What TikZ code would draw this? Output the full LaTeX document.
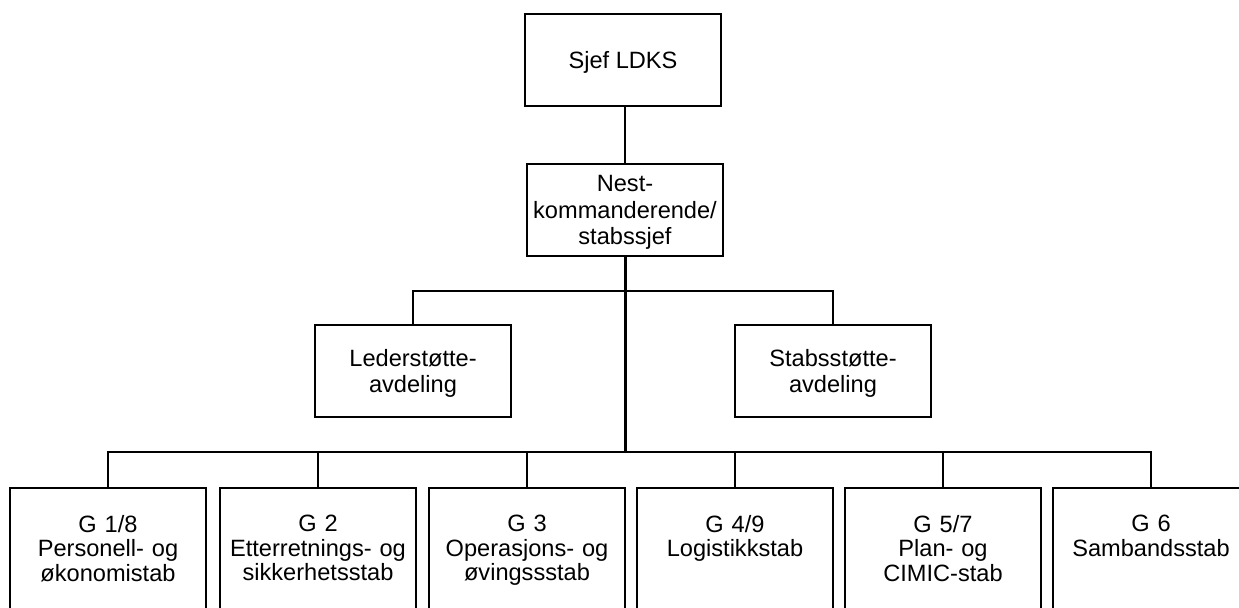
\documentclass[tikz,border=0pt]{standalone}
\usepackage{fontspec}
\setmainfont{Liberation Sans}
\usetikzlibrary{positioning}

\begin{document}
\begin{tikzpicture}[x=0.5pt,y=-0.5pt,
        box/.style={draw,line width=0.9pt,minimum width=98pt,minimum height=46pt,inner sep=2pt,text depth=0pt,align=center,font=\fontsize{11.8pt}{13.2pt}\selectfont},
        stab/.style={draw,line width=0.9pt,anchor=north,text width=92pt,inner xsep=3pt,inner ysep=13.6pt,text depth=60pt,align=center,font=\fontsize{11.8pt}{12.25pt}\selectfont},
        link/.style={line width=0.75pt}]

        % Rammen for bildet
        \path[use as bounding box,clip] (0,0) rectangle (1239,607);

        % Ledelse
        \node[box] (sjef) at (623,60) {Sjef LDKS}; % Sjef
        \node[box] (nest) at (625,210) {Nest-\\kommanderende/\\stabssjef}; % Nestkommanderende

        % Avdelinger
        \node[box] (leder) at (413,371) {Lederstøtte-\\avdeling};
        \node[box] (stabs) at (833,371) {Stabsstøtte-\\avdeling};

        % Staber
        \node[stab] (g1) at (108,487) {G 1/8\\Personell- og\\økonomistab};
        \node[stab] (g2) at (318,487) {G 2\\Etterretnings- og\\sikkerhetsstab};
        \node[stab] (g3) at (527,487) {G 3\\Operasjons- og\\øvingssstab};
        \node[stab] (g4) at (735,487) {G 4/9\\Logistikkstab};
        \node[stab] (g5) at (943,487) {G 5/7\\Plan- og\\CIMIC-stab};
        \node[stab] (g6) at (1151,487) {G 6\\Sambandsstab};

        % Knutepunkt
        \coordinate (mid) at (625,291);
        \coordinate (hub) at (625,452);

        % Linjer
        \draw[link] (nest.north) -- (nest.north |- sjef.south);
        \draw[line width=1.5pt] (nest.south) -- (hub);
        \draw[link] (leder.north) |- (mid) -| (stabs.north);
        \draw[link] (g1.north) |- (hub) -| (g6.north);
        \draw[link] (g2.north) -- (g2.north |- hub);
        \draw[link] (g3.north) -- (g3.north |- hub);
        \draw[link] (g4.north) -- (g4.north |- hub);
        \draw[link] (g5.north) -- (g5.north |- hub);

\end{tikzpicture}
\end{document}
